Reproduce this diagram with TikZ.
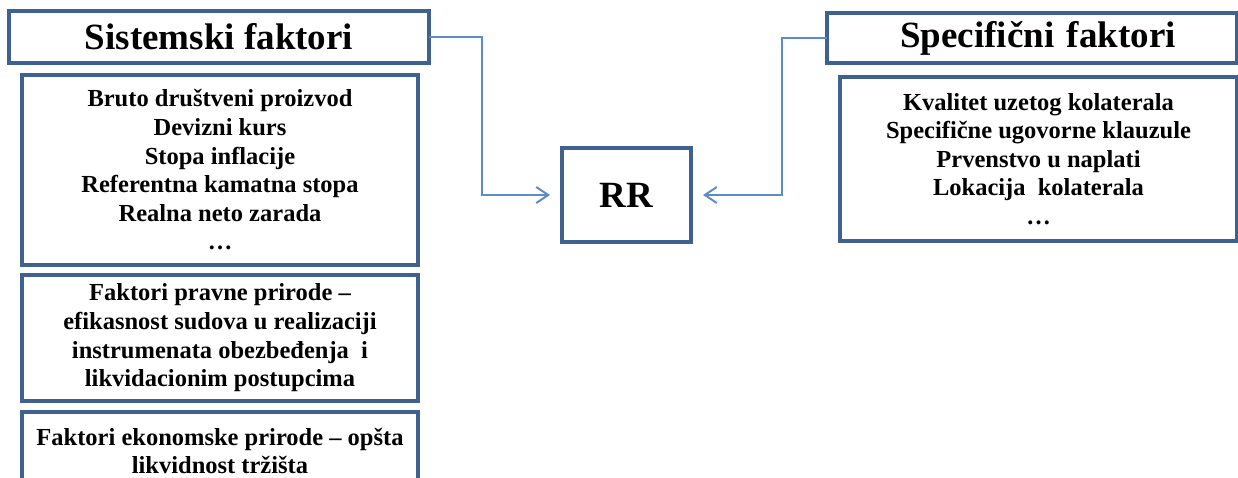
\documentclass[tikz,border=0pt]{standalone}
\usepackage{fontspec}
\setmainfont{Liberation Serif}
\usetikzlibrary{arrows.meta}
\definecolor{boxblue}{HTML}{3F6190}
\definecolor{linkblue}{HTML}{5B8BC9}
\begin{document}
\begin{tikzpicture}[x=1pt,y=-1pt,
  box/.style={draw=boxblue, line width=3.5pt, fill=white, inner sep=0pt, outer sep=0pt, align=center, font=\bfseries\fontsize{24.5}{28.6}\selectfont},
  titlebox/.style={box, font=\bfseries\fontsize{37}{40}\selectfont},
  conn/.style={draw=linkblue, line width=2pt, -{Straight Barb[length=12pt,width=16pt,line width=2pt]}, shorten >=12pt}]
\useasboundingbox (0,0) rectangle (1238,478);
\clip (0,0) rectangle (1238,478);
\node[titlebox, minimum width=420pt, minimum height=52pt] (sis) at (219,37) {Sistemski faktori};
\node[box, minimum width=396pt, minimum height=190pt] (macro) at (220,170) {Bruto društveni proizvod\\Devizni kurs\\Stopa inflacije\\Referentna kamatna stopa\\Realna neto zarada\\…};
\node[box, minimum width=396pt, minimum height=126pt] (legal) at (220,338) {Faktori pravne prirode –\\efikasnost sudova u realizaciji\\instrumenata obezbeđenja\ \ i\\likvidacionim postupcima};
\node[box, minimum width=396pt, minimum height=78pt] (econ) at (220,451) {Faktori ekonomske prirode – opšta\\likvidnost tržišta};
\node[titlebox, minimum width=129pt, minimum height=94pt] (rr) at (626.5,195) {RR};
\node[titlebox, minimum width=410pt, minimum height=50pt, text width=410pt, align=center, xshift=0pt] (spec) at (1032,38) {\hspace*{12pt}Specifični faktori};
\node[box, minimum width=397pt, minimum height=164pt] (specbody) at (1038.5,159) {Kvalitet uzetog kolaterala\\Specifične ugovorne klauzule\\Prvenstvo u naplati\\Lokacija\ \ kolaterala\\…};
\draw[conn] (sis.east) -- ++(53,0) |- (rr.west);
\draw[conn] (spec.west) -- ++(-45,0) |- (rr.east);
\end{tikzpicture}
\end{document}
